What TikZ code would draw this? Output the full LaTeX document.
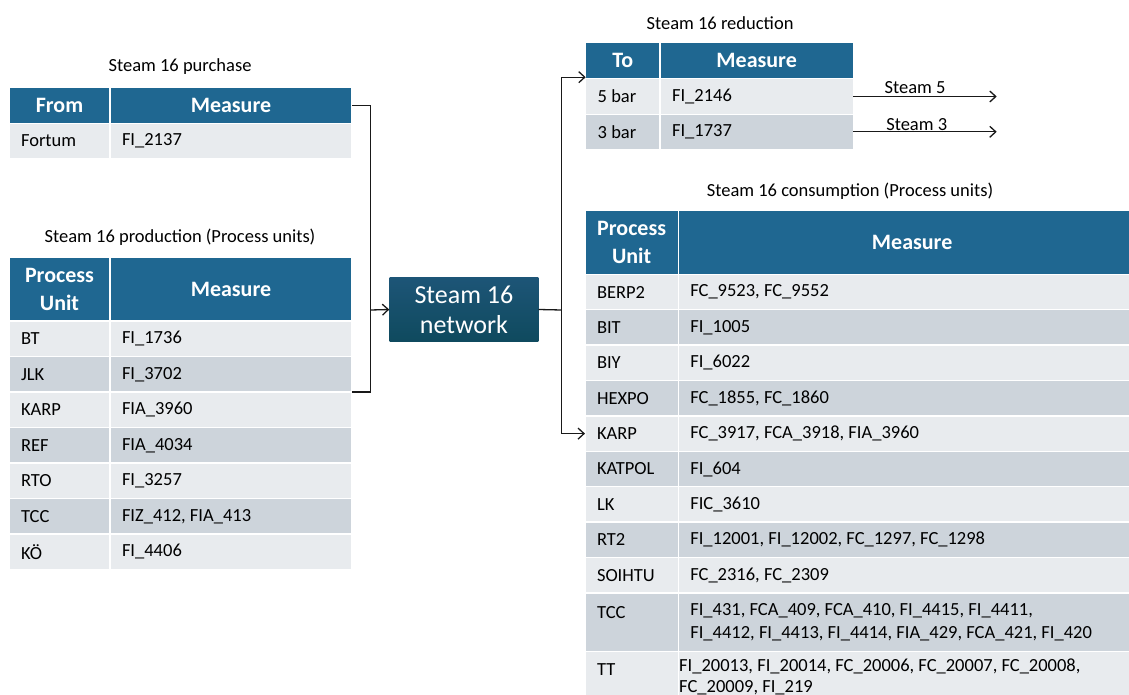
\documentclass[tikz,border=0pt]{standalone}
\usepackage{fontspec}
\setmainfont{Carlito}
\usetikzlibrary{arrows.meta}
\frenchspacing
\definecolor{hdr}{HTML}{1F6791}
\definecolor{rowA}{HTML}{E8EBEE}
\definecolor{rowB}{HTML}{CDD4DB}
\definecolor{netTop}{HTML}{1D5577}
\definecolor{netBot}{HTML}{0F4A5E}
\newcommand\bodyfont{\fontsize{18.5}{22.7}\selectfont}
\newcommand\hdrfont{\fontsize{22}{27.5}\selectfont\bfseries}
\newcommand\netfont{\fontsize{26}{30}\selectfont}
\newcommand\cellbox[8]{%
  \pgfmathsetmacro\cw{#3-#2}\pgfmathsetmacro\ch{#5-#4}\pgfmathsetmacro\tw{#3-#2-24}%
  \node[cellbase, minimum width=\cw pt, minimum height=\ch pt, #6] (#1) at (#2,#4) {\parbox{\tw pt}{#7#8}};}
\begin{document}
\begin{tikzpicture}[x=1pt,y=-1pt,
  cellbase/.style={anchor=north west, draw=white, line width=1.5pt, inner xsep=12pt, inner ysep=0pt, outer sep=0pt, font=\bodyfont, text=black},
  hdrcell/.style={fill=hdr, text=white, font=\hdrfont},
  ttl/.style={font=\bodyfont, inner sep=0pt},
  txt/.style={font=\bodyfont, inner sep=0pt, anchor=west},
  conn/.style={draw=black!90, line width=1.3pt},
  arr/.style={-{Straight Barb[length=6pt,width=11pt,line width=1.3pt]}},
  netbox/.style={minimum width=148.8pt, minimum height=64.4pt, inner sep=0pt, top color=netTop, bottom color=netBot, draw=none, text=white, font=\netfont, align=center}
]
\useasboundingbox (0,0) rectangle (1129,695);
% titles
\node[ttl] (tpur) at (180,67) {Steam 16 purchase};
\node[ttl] (tprod) at (180,237) {Steam 16 production (Process units)};
\node[ttl] (tred) at (720,22.7) {Steam 16 reduction};
\node[ttl] (tcon) at (850,191.7) {Steam 16 consumption (Process units)};
% purchase table
\cellbox{ph1}{9}{110}{87.3}{123.3}{hdrcell}{\centering}{From}
\cellbox{ph2}{110}{352}{87.3}{123.3}{hdrcell}{\centering}{Measure}
\cellbox{p1a}{9}{110}{123.3}{158.7}{fill=rowA}{\raggedright}{Fortum}
\cellbox{p1b}{110}{352}{123.3}{158.7}{fill=rowA}{\raggedright}{FI\_2137}
% production table
\cellbox{prh1}{9}{110}{257.7}{321}{hdrcell}{\centering}{Process\\Unit}
\cellbox{prh2}{110}{352}{257.7}{321}{hdrcell}{\centering}{Measure}
\cellbox{pr1a}{9}{110}{321}{356.5}{fill=rowA}{\raggedright}{BT}
\cellbox{pr1b}{110}{352}{321}{356.5}{fill=rowA}{\raggedright}{FI\_1736}
\cellbox{pr2a}{9}{110}{356.5}{392}{fill=rowB}{\raggedright}{JLK}
\cellbox{pr2b}{110}{352}{356.5}{392}{fill=rowB}{\raggedright}{FI\_3702}
\cellbox{pr3a}{9}{110}{392}{427.5}{fill=rowA}{\raggedright}{KARP}
\cellbox{pr3b}{110}{352}{392}{427.5}{fill=rowA}{\raggedright}{FIA\_3960}
\cellbox{pr4a}{9}{110}{427.5}{463}{fill=rowB}{\raggedright}{REF}
\cellbox{pr4b}{110}{352}{427.5}{463}{fill=rowB}{\raggedright}{FIA\_4034}
\cellbox{pr5a}{9}{110}{463}{498.5}{fill=rowA}{\raggedright}{RTO}
\cellbox{pr5b}{110}{352}{463}{498.5}{fill=rowA}{\raggedright}{FI\_3257}
\cellbox{pr6a}{9}{110}{498.5}{534}{fill=rowB}{\raggedright}{TCC}
\cellbox{pr6b}{110}{352}{498.5}{534}{fill=rowB}{\raggedright}{FIZ\_412, FIA\_413}
\cellbox{pr7a}{9}{110}{534}{569.5}{fill=rowA}{\raggedright}{KÖ}
\cellbox{pr7b}{110}{352}{534}{569.5}{fill=rowA}{\raggedright}{FI\_4406}
% reduction table
\cellbox{rh1}{585.7}{660}{42.3}{78.7}{hdrcell}{\centering}{To}
\cellbox{rh2}{660}{853.3}{42.3}{78.7}{hdrcell}{\centering}{Measure}
\cellbox{r1a}{585.7}{660}{78.7}{114.3}{fill=rowA}{\raggedright}{5 bar}
\cellbox{r1b}{660}{853.3}{78.7}{114.3}{fill=rowA}{\raggedright}{FI\_2146}
\cellbox{r2a}{585.7}{660}{114.3}{149.3}{fill=rowB}{\raggedright}{3 bar}
\cellbox{r2b}{660}{853.3}{114.3}{149.3}{fill=rowB}{\raggedright}{FI\_1737}
% consumption table
\cellbox{ch1}{585}{678.3}{210.7}{274.3}{hdrcell}{\centering}{Process\\Unit}
\cellbox{ch2}{678.3}{1146}{210.7}{274.3}{hdrcell}{\centering}{Measure}
\cellbox{c1a}{585}{678.3}{274.3}{309.7}{fill=rowA}{\raggedright}{BERP2}
\cellbox{c1b}{678.3}{1146}{274.3}{309.7}{fill=rowA}{\raggedright}{FC\_9523, FC\_9552}
\cellbox{c2a}{585}{678.3}{309.7}{345.1}{fill=rowB}{\raggedright}{BIT}
\cellbox{c2b}{678.3}{1146}{309.7}{345.1}{fill=rowB}{\raggedright}{FI\_1005}
\cellbox{c3a}{585}{678.3}{345.1}{380.5}{fill=rowA}{\raggedright}{BIY}
\cellbox{c3b}{678.3}{1146}{345.1}{380.5}{fill=rowA}{\raggedright}{FI\_6022}
\cellbox{c4a}{585}{678.3}{380.5}{415.9}{fill=rowB}{\raggedright}{HEXPO}
\cellbox{c4b}{678.3}{1146}{380.5}{415.9}{fill=rowB}{\raggedright}{FC\_1855, FC\_1860}
\cellbox{c5a}{585}{678.3}{415.9}{451.3}{fill=rowA}{\raggedright}{KARP}
\cellbox{c5b}{678.3}{1146}{415.9}{451.3}{fill=rowA}{\raggedright}{FC\_3917, FCA\_3918, FIA\_3960}
\cellbox{c6a}{585}{678.3}{451.3}{486.7}{fill=rowB}{\raggedright}{KATPOL}
\cellbox{c6b}{678.3}{1146}{451.3}{486.7}{fill=rowB}{\raggedright}{FI\_604}
\cellbox{c7a}{585}{678.3}{486.7}{522.1}{fill=rowA}{\raggedright}{LK}
\cellbox{c7b}{678.3}{1146}{486.7}{522.1}{fill=rowA}{\raggedright}{FIC\_3610}
\cellbox{c8a}{585}{678.3}{522.1}{557.5}{fill=rowB}{\raggedright}{RT2}
\cellbox{c8b}{678.3}{1146}{522.1}{557.5}{fill=rowB}{\raggedright}{FI\_12001, FI\_12002, FC\_1297, FC\_1298}
\cellbox{c9a}{585}{678.3}{557.5}{592.9}{fill=rowA}{\raggedright}{SOIHTU}
\cellbox{c9b}{678.3}{1146}{557.5}{592.9}{fill=rowA}{\raggedright}{FC\_2316, FC\_2309}
\cellbox{c10a}{585}{678.3}{592.9}{651.4}{fill=rowB}{\raggedright}{}
\cellbox{c10b}{678.3}{1146}{592.9}{651.4}{fill=rowB}{\raggedright}{FI\_431, FCA\_409, FCA\_410, FI\_4415, FI\_4411,\\FI\_4412, FI\_4413, FI\_4414, FIA\_429, FCA\_421, FI\_420}
\node[txt] (c10t) at (597,612.3) {TCC};
\cellbox{c11a}{585}{678.3}{651.4}{720}{fill=rowA}{\raggedright}{}
\cellbox{c11b}{678.3}{1146}{651.4}{720}{fill=rowA}{\raggedright}{}
\node[txt] (c11t) at (597,670) {TT};
\node[txt] (c11m1) at (679,666) {FI\_20013, FI\_20014, FC\_20006, FC\_20007, FC\_20008,};
\node[txt] (c11m2) at (679,687.5) {FC\_20009, FI\_219};
% network
\node[netbox] (net) at (463.9,309.5) {Steam 16\\network};
% connectors left
\coordinate (lj) at (370.7,310);
\draw[conn] (ph2.east) -| (lj) |- (pr2b.south east);
\draw[conn,arr] (lj) -- (net.west);
% connectors right
\coordinate (rj) at (561.5,310);
\draw[conn] (net.east) -- (rj);
\draw[conn,arr] (rj) |- ([yshift=1.5pt]rh1.south west);
\draw[conn,arr] (rj) |- (c5a.west);
% outgoing steam
\coordinate (s5) at (996.7,96.5);
\coordinate (s3) at (996.7,131.8);
\draw[conn,arr] (r1b.east) -- (s5);
\draw[conn,arr] (r2b.east) -- (s3);
\node[ttl] (s5l) at (915,87.7) {Steam 5};
\node[ttl] (s3l) at (916.7,125) {Steam 3};
\end{tikzpicture}
\end{document}
